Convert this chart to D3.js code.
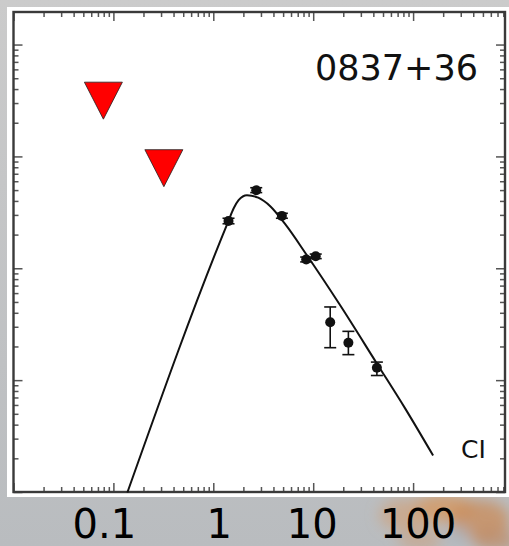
<!DOCTYPE html>
<html>
<head>
<meta charset="utf-8">
<script src="https://cdn.jsdelivr.net/npm/d3@7"></script>
<style>
  html, body { margin: 0; padding: 0; background: #c3c3c3; }
  svg { display: block; }
</style>
</head>
<body>
<svg id="chart" width="509" height="546"></svg>
<script>
// Measured flux densities (frequency in GHz, flux in arbitrary log units)
const freqs   = [1.42, 2.69, 4.86, 8.51, 10.6, 14.8, 22.5, 43.4];
const fluxes  = [2.65, 4.99, 2.94, 1.20, 1.28, 0.329, 0.216, 0.129];
const fluxLo  = [2.50, 4.75, 2.80, 1.14, 1.22, 0.195, 0.169, 0.110];
const fluxHi  = [2.80, 5.25, 3.10, 1.26, 1.34, 0.451, 0.273, 0.145];

// Upper limits at low frequency
const limitFreqs  = [0.0794, 0.32];
const limitFluxes = [31.5, 7.85];

// Fitted spectrum (sampled along the model curve)
const fitFreqs  = [0.138, 1.413, 1.596, 1.791, 2.173, 2.818, 3.715, 5.248, 8.650, 18.62, 43.35, 83.2, 158.5];
const fitFluxes = [0.0099, 2.63, 3.42, 4.06, 4.50, 4.275, 3.588, 2.476, 1.307, 0.4666, 0.141, 0.0559, 0.0212];

const tickValues = [0.1, 1, 10, 100];
const tickLabels = ["0.1", "1", "10", "100"];

const sourceName = "0837+36";
const modelName = "CI";

const W = 509, H = 546;
const svg = d3.select("#chart");

// ---- slide background ----
const defs = svg.append("defs");
const bg = defs.append("linearGradient").attr("id", "bgGrad").attr("x1", 0).attr("y1", 0).attr("x2", 0).attr("y2", 1);
bg.append("stop").attr("offset", "0%").attr("stop-color", "#cbcbcb");
bg.append("stop").attr("offset", "100%").attr("stop-color", "#b9bcbf");
svg.append("rect").attr("width", W).attr("height", H).attr("fill", "url(#bgGrad)");

const blur = defs.append("filter").attr("id", "soft").attr("x", "-50%").attr("y", "-50%").attr("width", "200%").attr("height", "200%");
blur.append("feGaussianBlur").attr("stdDeviation", 7);
const blobs = svg.append("g").attr("filter", "url(#soft)");
[[405, 515, 26, 16, "#cfa27d", 0.7], [445, 508, 30, 14, "#d39a66", 0.85], [480, 520, 30, 20, "#c98d5e", 0.8],
 [420, 540, 22, 12, "#c9a184", 0.6], [495, 540, 22, 12, "#be8c68", 0.7], [458, 535, 12, 10, "#aab3bd", 0.7]]
  .forEach(([cx, cy, rx, ry, c, o]) => blobs.append("ellipse")
    .attr("cx", cx).attr("cy", cy).attr("rx", rx).attr("ry", ry).attr("fill", c).attr("opacity", o));

// white figure panel
svg.append("rect").attr("x", 7).attr("y", 7).attr("width", W - 7).attr("height", 490).attr("fill", "#ffffff");

// ---- scales ----
const frame = { left: 13.5, right: 505, top: 12, bottom: 492 };
const x = d3.scaleLog().domain([0.01, Math.pow(10, 2.92)]).range([frame.left, frame.right]);
const y = d3.scaleLog().domain([0.01, Math.pow(10, 2.291)]).range([frame.bottom, frame.top]);

const isMajor = v => Math.abs(Math.log10(v) - Math.round(Math.log10(v))) < 1e-6;
const majorLen = 9, minorLen = 5;

function styleAxis(g, sign) {
  g.select(".domain").remove();
  g.selectAll(".tick line")
    .attr("stroke", "#555")
    .attr("stroke-width", 1.5)
    .each(function (d) {
      const len = isMajor(d) ? majorLen : minorLen;
      const el = d3.select(this);
      if (el.attr("x2") !== null && +el.attr("x2") !== 0) el.attr("x2", sign * len);
      else el.attr("y2", sign * len);
    });
  g.selectAll(".tick text").remove();
}

const xTicks = x.ticks(40);
const yTicks = y.ticks(40);

svg.append("g").attr("transform", `translate(0,${frame.bottom})`)
  .call(d3.axisBottom(x).tickValues(xTicks).tickSize(-1)).call(g => styleAxis(g, -1));
svg.append("g").attr("transform", `translate(0,${frame.top})`)
  .call(d3.axisTop(x).tickValues(xTicks).tickSize(-1)).call(g => styleAxis(g, 1));
svg.append("g").attr("transform", `translate(${frame.left},0)`)
  .call(d3.axisLeft(y).tickValues(yTicks).tickSize(-1)).call(g => styleAxis(g, 1));
svg.append("g").attr("transform", `translate(${frame.right},0)`)
  .call(d3.axisRight(y).tickValues(yTicks).tickSize(-1)).call(g => styleAxis(g, -1));

// frame
svg.append("rect")
  .attr("x", frame.left).attr("y", frame.top)
  .attr("width", frame.right - frame.left).attr("height", frame.bottom - frame.top)
  .attr("fill", "none").attr("stroke", "#3a3a3a").attr("stroke-width", 2.4);

// ---- model curve ----
const plot = svg.append("g");
const fit = fitFreqs.map((f, i) => [f, fitFluxes[i]]);
plot.append("path")
  .datum(fit)
  .attr("d", d3.line().x(d => x(d[0])).y(d => y(d[1])).curve(d3.curveMonotoneX))
  .attr("fill", "none").attr("stroke", "#111").attr("stroke-width", 2);

// ---- measurements with error bars ----
const pts = freqs.map((f, i) => ({ f, s: fluxes[i], lo: fluxLo[i], hi: fluxHi[i] }));
const capW = 6;
const eb = plot.append("g").attr("stroke", "#111").attr("stroke-width", 1.6);
pts.forEach(p => {
  const cx = x(p.f);
  eb.append("line").attr("x1", cx).attr("x2", cx).attr("y1", y(p.lo)).attr("y2", y(p.hi));
  eb.append("line").attr("x1", cx - capW).attr("x2", cx + capW).attr("y1", y(p.lo)).attr("y2", y(p.lo));
  eb.append("line").attr("x1", cx - capW).attr("x2", cx + capW).attr("y1", y(p.hi)).attr("y2", y(p.hi));
});
plot.append("g").selectAll("circle").data(pts).join("circle")
  .attr("cx", d => x(d.f)).attr("cy", d => y(d.s)).attr("r", 5).attr("fill", "#111");

// ---- upper limits (downward triangles) ----
const limits = limitFreqs.map((f, i) => ({ f, s: limitFluxes[i] }));
const triHalfW = 19, triHalfH = 18.5;
plot.append("g").selectAll("path").data(limits).join("path")
  .attr("d", d => {
    const cx = x(d.f), cy = y(d.s);
    return `M${cx - triHalfW},${cy - triHalfH}L${cx + triHalfW},${cy - triHalfH}L${cx},${cy + triHalfH}Z`;
  })
  .attr("fill", "#ff0000").attr("stroke", "#222").attr("stroke-width", 0.8);

// ---- labels ----
svg.append("text").attr("x", 315).attr("y", 80)
  .attr("font-family", "DejaVu Sans, sans-serif").attr("font-size", 35).attr("fill", "#111")
  .text(sourceName);
svg.append("text").attr("x", 461).attr("y", 458)
  .attr("font-family", "DejaVu Sans, sans-serif").attr("font-size", 25).attr("fill", "#111")
  .text(modelName);

// frequency tick labels below the panel
const labelNudge = [-9, 6, -1, 5];
svg.append("g").selectAll("text").data(tickValues).join("text")
  .attr("x", (d, i) => x(d) + labelNudge[i]).attr("y", 538)
  .attr("text-anchor", "middle")
  .attr("font-family", "DejaVu Sans, sans-serif").attr("font-size", 40).attr("fill", "#000")
  .text((d, i) => tickLabels[i]);
</script>
</body>
</html>
